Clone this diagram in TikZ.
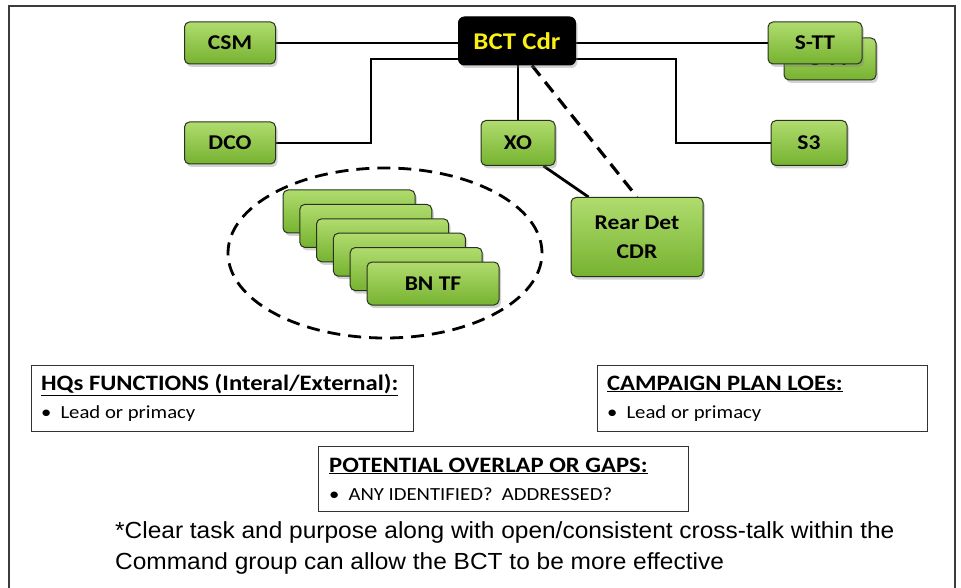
\documentclass[tikz,border=0pt]{standalone}
\usepackage{fontspec}
\setmainfont{Carlito}[FakeStretch=1.12]
\newfontfamily\arialf{Liberation Sans}[FakeStretch=1.05]
\usetikzlibrary{shadows,shapes.geometric,backgrounds}
\definecolor{gtop}{RGB}{176,220,110}
\definecolor{gbot}{RGB}{118,178,48}
\definecolor{gline}{RGB}{40,50,30}
\definecolor{cyel}{RGB}{250,240,20}
\definecolor{framec}{RGB}{60,60,60}
\tikzset{
  gbox/.style={draw=gline, line width=1pt, rounded corners=5pt, top color=gtop, bottom color=gbot,
    font=\bfseries\fontsize{21}{29}\selectfont, align=center,
    drop shadow={shadow xshift=2pt, shadow yshift=-3pt, opacity=0.35}},
  blkbox/.style={draw=black, line width=1pt, rounded corners=6pt, fill=black, text=cyel,
    font=\bfseries\fontsize{24}{28}\selectfont,
    drop shadow={shadow xshift=2pt, shadow yshift=-3pt, opacity=0.35}},
  conn/.style={line width=2.8pt, black},
  dconn/.style={line width=3.2pt, black, dash pattern=on 13pt off 8pt},
  infobox/.style={draw=black!80, line width=0.9pt, fill=white},
  ttl/.style={font=\bfseries\fontsize{22}{24}\selectfont, inner sep=0pt, anchor=base west},
  bul/.style={font=\fontsize{18.5}{20}\selectfont, inner sep=0pt, anchor=base west},
}
\begin{document}
\begin{tikzpicture}[x=1pt,y=-1pt]
\useasboundingbox (0,0) rectangle (961,588);
\draw[framec, line width=1.4pt] (9,590) -- (9,6) -- (955,6) -- (955,590);

% ellipse
\node[draw, line width=2.8pt, dash pattern=on 13pt off 8pt, ellipse, minimum width=314, minimum height=170, inner sep=0pt] (ell) at (385,253) {};

\coordinate (dcoA) at (371,143);
\coordinate (dcoB) at (371,59);
\coordinate (s3A) at (676,59);
\coordinate (s3B) at (676,143);

% nodes
\node[gbox, minimum width=91, minimum height=42] (csm) at (230,43) {CSM};
\node[gbox, minimum width=91, minimum height=42] (dco) at (230,143) {DCO};
\node[gbox, minimum width=74, minimum height=45] (xo) at (518,143) {XO};
\node[gbox, minimum width=76, minimum height=45] (s3) at (809,143) {S3};
\node[gbox, minimum width=92, minimum height=42] (stt2) at (830,59) {S-TT};
\node[gbox, minimum width=94, minimum height=42] (stt) at (815,43) {S-TT};
\node[gbox, minimum width=132, minimum height=79] (rear) at (637,237) {Rear Det\\CDR};

\foreach \i in {0,...,4}{
  \node[gbox, minimum width=132, minimum height=43] (bn\i) at ({349+16.8*\i},{211.5+14.4*\i}) {};
}
\node[gbox, minimum width=132, minimum height=43] (bntf) at (433,283.5) {BN TF};

\node[blkbox, minimum width=117, minimum height=48] (bct) at (517,41) {BCT Cdr};

\begin{pgfonlayer}{background}
\draw[conn] (csm.east) -- (bct.west |- csm.east);
\draw[conn] (bct.east |- stt.west) -- (stt.west);
\draw[conn] (dco.east) -- (dcoA) -- (dcoB) -- (bct.west |- dcoB);
\draw[conn] (bct.east |- s3A) -- (s3A) -- (s3B) -- (s3.west);
\draw[conn] (bct.south -| xo.north) -- (xo.north);
\draw[conn] ([xshift=-12pt]xo.south east) -- ([xshift=18pt]rear.north west);
\draw[dconn] ([xshift=15pt]bct.south) -- (rear.north);
\end{pgfonlayer}

% info boxes
\node[infobox, minimum width=382, minimum height=66] (hq) at (222,398) {};
\node[ttl] (hqt) at (41,390) {\underline{HQs FUNCTIONS (Interal/External):}};
\node[bul] (hqb) at (41,418) {\textbullet\hspace{9pt}Lead or primacy};

\node[infobox, minimum width=330, minimum height=66] (cp) at (762,398) {};
\node[ttl] (cpt) at (607,390) {\underline{CAMPAIGN PLAN LOEs:}};
\node[bul] (cpb) at (607,418) {\textbullet\hspace{9pt}Lead or primacy};

\node[infobox, minimum width=370, minimum height=65] (po) at (503,478.5) {};
\node[ttl] (pot) at (329,472) {\underline{POTENTIAL OVERLAP OR GAPS:}};
\node[bul] (pob) at (329,500) {\textbullet\hspace{9pt}ANY IDENTIFIED?\ \ ADDRESSED?};

\node[font=\arialf\fontsize{23.3}{31}\selectfont, align=left, anchor=north west, inner sep=0pt] (foot) at (115,521)
  {*Clear task and purpose along with open/consistent cross-talk within the\\Command group can allow the BCT to be more effective};
\end{tikzpicture}
\end{document}
